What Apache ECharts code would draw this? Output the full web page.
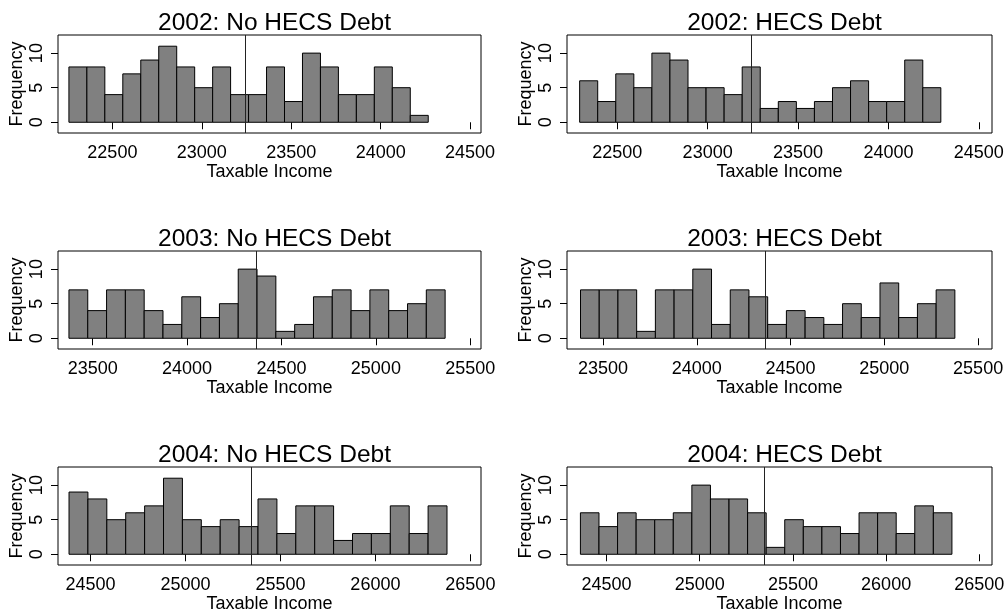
<!DOCTYPE html>
<html><head><meta charset="utf-8">
<script src="https://cdn.jsdelivr.net/npm/echarts@6/dist/echarts.min.js"></script>
<style>html,body{margin:0;padding:0;background:#fff}#c{width:1008px;height:614px}</style>
</head><body><div id="c"></div>
<script>
// ---- data ----
const titles = ["2002: No HECS Debt", "2002: HECS Debt", "2003: No HECS Debt", "2003: HECS Debt", "2004: No HECS Debt", "2004: HECS Debt"];
const counts2002No  = [8, 8, 4, 7, 9, 11, 8, 5, 8, 4, 4, 8, 3, 10, 8, 4, 4, 8, 5, 1];
const counts2002Yes = [6, 3, 7, 5, 10, 9, 5, 5, 4, 8, 2, 3, 2, 3, 5, 6, 3, 3, 9, 5];
const counts2003No  = [7, 4, 7, 7, 4, 2, 6, 3, 5, 10, 9, 1, 2, 6, 7, 4, 7, 4, 5, 7];
const counts2003Yes = [7, 7, 7, 1, 7, 7, 10, 2, 7, 6, 2, 4, 3, 2, 5, 3, 8, 3, 5, 7];
const counts2004No  = [9, 8, 5, 6, 7, 11, 5, 4, 5, 4, 8, 3, 7, 7, 2, 3, 3, 7, 3, 7];
const counts2004Yes = [6, 4, 6, 5, 5, 6, 10, 8, 8, 6, 1, 5, 4, 4, 3, 6, 6, 3, 7, 6];
// histogram bin edges (first edge, last edge) in Taxable Income units
const bins2002No  = [22257, 24266];
const bins2002Yes = [22292, 24290];
const bins2003No  = [23374, 25367];
const bins2003Yes = [23380, 25376];
const bins2004No  = [24387, 26377];
const bins2004Yes = [24360, 26353];
// HECS repayment thresholds (vertical lines)
const thresholds = [23242, 23242, 24365, 24365, 25348, 25348];
// axis ranges
const xRange2002No  = [22196, 24561];
const xRange2002Yes = [22222, 24573];
const xRange2003No  = [23316, 25557];
const xRange2003Yes = [23308, 25574];
const xRange2004No  = [24329, 26556];
const xRange2004Yes = [24288, 26568];
const yRange = [-1.55, 12.62];
// tick labels
const xTicks2002 = [22500, 23000, 23500, 24000, 24500];
const xTicks2003 = [23500, 24000, 24500, 25000, 25500];
const xTicks2004 = [24500, 25000, 25500, 26000, 26500];
const yTicks = [0, 5, 10];

const panels = [
  {counts: counts2002No,  bins: bins2002No,  xr: xRange2002No,  ticks: xTicks2002},
  {counts: counts2002Yes, bins: bins2002Yes, xr: xRange2002Yes, ticks: xTicks2002},
  {counts: counts2003No,  bins: bins2003No,  xr: xRange2003No,  ticks: xTicks2003},
  {counts: counts2003Yes, bins: bins2003Yes, xr: xRange2003Yes, ticks: xTicks2003},
  {counts: counts2004No,  bins: bins2004No,  xr: xRange2004No,  ticks: xTicks2004},
  {counts: counts2004Yes, bins: bins2004Yes, xr: xRange2004Yes, ticks: xTicks2004}
];

// ---- layout ----
const FONT = '"Liberation Sans", Arial, Helvetica, sans-serif';
const colLeft = [58, 567];
const colWidth = [423, 425];
const rowTop = [35, 251, 467];
const gridH = 98;

const grid = [], xAxis = [], yAxis = [], series = [], title = [];
panels.forEach((p, i) => {
  const col = i % 2, row = Math.floor(i / 2);
  grid.push({left: colLeft[col], top: rowTop[row], width: colWidth[col], height: gridH,
    show: true, borderColor: '#000', borderWidth: 1, backgroundColor: 'transparent'});
  title.push({text: titles[i], left: colLeft[col] + colWidth[col] / 2, top: rowTop[row] - 29,
    textAlign: 'center',
    textStyle: {fontFamily: FONT, fontSize: 24.5, fontWeight: 'normal', color: '#000'}});
  xAxis.push({type: 'value', gridIndex: i, min: p.xr[0], max: p.xr[1],
    name: 'Taxable Income', nameLocation: 'middle', nameGap: 28,
    nameTextStyle: {fontFamily: FONT, fontSize: 18, color: '#000'},
    axisLine: {show: false}, splitLine: {show: false},
    axisTick: {show: true, length: 7, lineStyle: {color: '#000', width: 1}, customValues: p.ticks},
    axisLabel: {show: true, margin: 11, fontFamily: FONT, fontSize: 18, color: '#000', customValues: p.ticks,
      formatter: v => String(v)}
  });
  yAxis.push({type: 'value', gridIndex: i, min: yRange[0], max: yRange[1],
    name: 'Frequency', nameLocation: 'middle', nameGap: 32, nameRotate: 90,
    nameTextStyle: {fontFamily: FONT, fontSize: 18, color: '#000'},
    axisLine: {show: false}, splitLine: {show: false},
    axisTick: {show: true, length: 7, lineStyle: {color: '#000', width: 1}, customValues: yTicks},
    axisLabel: {show: true, margin: 12, rotate: 90, fontFamily: FONT, fontSize: 18, color: '#000', customValues: yTicks,
      formatter: v => String(v)}
  });
  const n = p.counts.length;
  const w = (p.bins[1] - p.bins[0]) / n;
  const data = p.counts.map((c, k) => [p.bins[0] + k * w, p.bins[0] + (k + 1) * w, c]);
  series.push({type: 'custom', xAxisIndex: i, yAxisIndex: i, data: data,
    encode: {x: [0, 1], y: 2},
    renderItem: (params, api) => {
      const a = api.coord([api.value(0), api.value(2)]);
      const b = api.coord([api.value(1), 0]);
      return {type: 'rect', shape: {x: a[0], y: a[1], width: b[0] - a[0], height: b[1] - a[1]},
        style: {fill: '#808080', stroke: '#000', lineWidth: 1}};
    },
    markLine: {silent: true, symbol: 'none', label: {show: false},
      lineStyle: {color: '#222', width: 1, type: 'solid'},
      data: [{xAxis: thresholds[i]}]},
    z: 2
  });
});

const chart = echarts.init(document.getElementById('c'), null, {renderer: 'canvas'});
chart.setOption({animation: false, backgroundColor: '#fff', title, grid, xAxis, yAxis, series});
</script></body></html>
